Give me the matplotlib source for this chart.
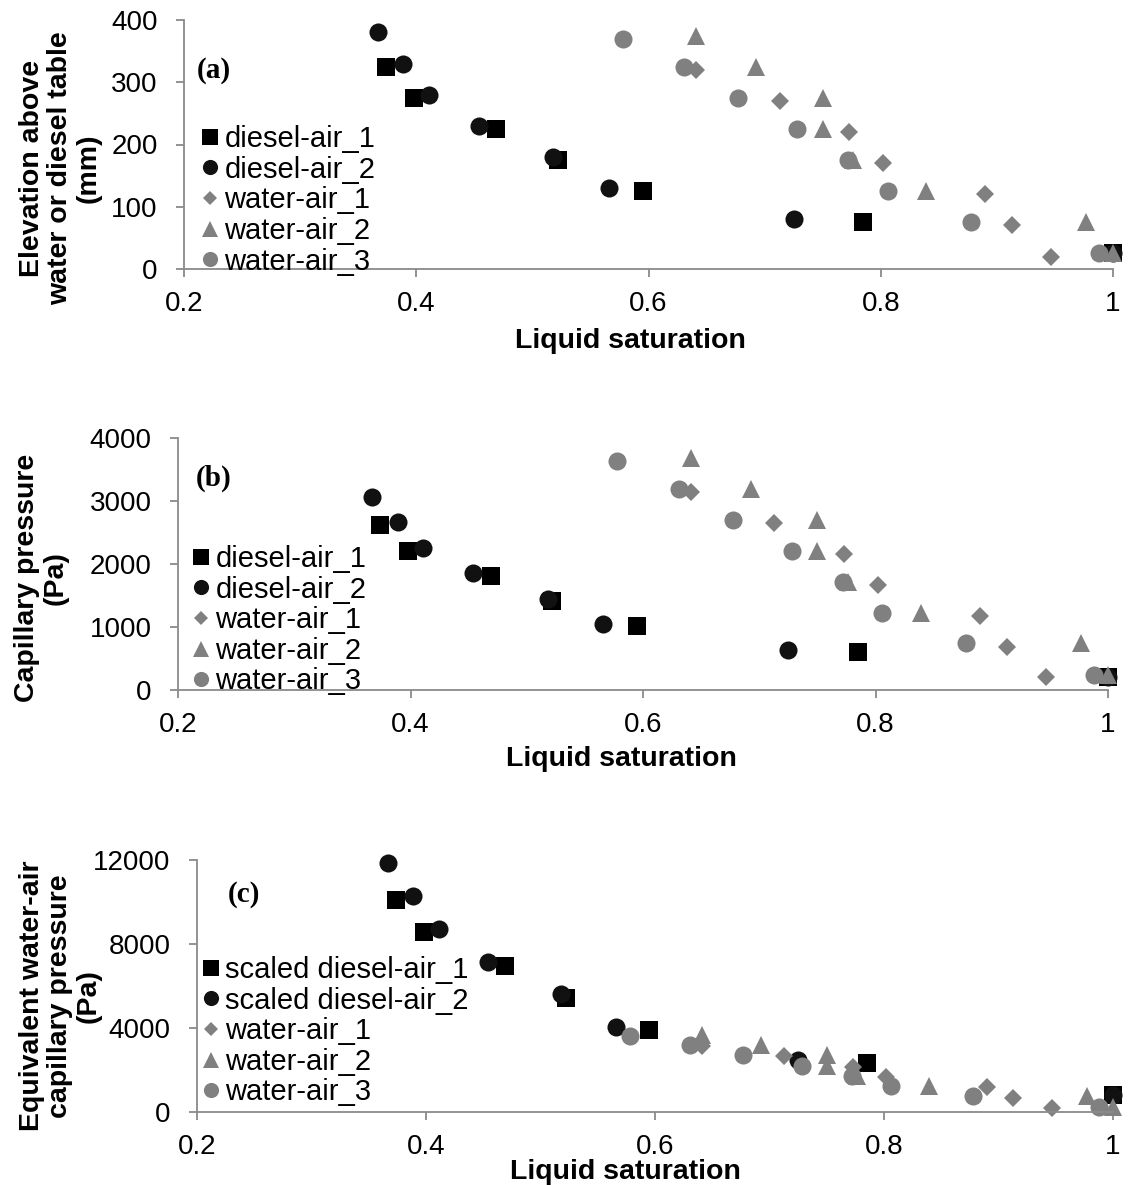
import matplotlib
matplotlib.use("Agg")
import matplotlib.pyplot as plt

plt.rcParams['font.family'] = ['Liberation Sans', 'DejaVu Sans']

W, H = 1134, 1185

# ---------------- data ----------------
# panel (a): elevation (mm) vs liquid saturation
sat_d1 = [0.374, 0.398, 0.469, 0.522, 0.595, 0.785, 1.0]
elev_d1 = [325, 275, 225, 175, 125, 75, 25]
sat_d2 = [0.367, 0.389, 0.411, 0.454, 0.518, 0.566, 0.725, 1.0]
elev_d2 = [380, 330, 280, 230, 180, 130, 80, 25]
sat_w1 = [0.641, 0.713, 0.773, 0.802, 0.890, 0.913, 0.947]
elev_w1 = [320, 270, 220, 170, 120, 70, 20]
sat_w2 = [0.641, 0.693, 0.750, 0.750, 0.776, 0.839, 0.977, 1.0]
elev_w2 = [375, 325, 275, 225, 175, 125, 75, 25]
sat_w3 = [0.578, 0.631, 0.677, 0.728, 0.772, 0.806, 0.878, 0.988]
elev_w3 = [370, 325, 275, 225, 175, 125, 75, 25]

# panel (b): capillary pressure (Pa)
pc_d1 = [2620, 2210, 1810, 1410, 1010, 610, 200]
pc_d2 = [3060, 2660, 2250, 1850, 1450, 1050, 640, 200]
pc_w1 = [3140, 2650, 2160, 1670, 1180, 690, 200]
pc_w2 = [3680, 3190, 2700, 2210, 1720, 1230, 740, 245]
pc_w3 = [3630, 3190, 2700, 2210, 1720, 1230, 740, 245]

# panel (c): equivalent water-air capillary pressure (Pa)
pcs_d1 = [10100, 8570, 6950, 5430, 3900, 2330, 820]
pcs_d2 = [11860, 10290, 8710, 7140, 5620, 4050, 2480, 820]

x_ticks = [0.2, 0.4, 0.6, 0.8, 1.0]
x_ticklabels = ['0.2', '0.4', '0.6', '0.8', '1']
y_ticks_a = [0, 100, 200, 300, 400]
y_ticks_b = [0, 1000, 2000, 3000, 4000]
y_ticks_c = [0, 4000, 8000, 12000]

names_ab = ['diesel-air_1', 'diesel-air_2', 'water-air_1', 'water-air_2', 'water-air_3']
names_c = ['scaled diesel-air_1', 'scaled diesel-air_2', 'water-air_1', 'water-air_2', 'water-air_3']

BLACK = '#000000'
DARK = '#111111'
GRAY = '#808080'
SPINE = '#8a8a8a'

styles = [
    dict(marker='s', color=BLACK, ms=13.5),
    dict(marker='o', color=DARK, ms=13),
    dict(marker='D', color=GRAY, ms=9),
    dict(marker='^', color=GRAY, ms=13),
    dict(marker='o', color=GRAY, ms=13),
]

fig = plt.figure(figsize=(W / 100, H / 100), dpi=100)


def px_axes(left, right, top, bottom):
    return fig.add_axes([left / W, 1 - bottom / H, (right - left) / W, (bottom - top) / H])


def style_axes(ax, yticks, ylim):
    ax.set_xlim(0.2, 1.0)
    ax.set_ylim(*ylim)
    ax.set_xticks(x_ticks)
    ax.set_xticklabels(x_ticklabels)
    ax.set_yticks(yticks)
    ax.set_yticklabels([str(v) for v in yticks])
    for s in ['top', 'right']:
        ax.spines[s].set_visible(False)
    for s in ['left', 'bottom']:
        ax.spines[s].set_color(SPINE)
        ax.spines[s].set_linewidth(1.3)
    ax.tick_params(axis='both', direction='out', length=6, width=1.3, color=SPINE,
                   labelsize=20, labelcolor='black')
    ax.tick_params(axis='x', pad=10)
    ax.tick_params(axis='y', pad=13)


def draw(ax, xs_list, ys_list, names, leg_px, letter, letter_px, xlab_px, ylab, ylab_px, ax_px):
    for xs, ys, st, nm in zip(xs_list, ys_list, styles, names):
        ax.plot(xs, ys, linestyle='none', marker=st['marker'], color=st['color'],
                markersize=st['ms'], markeredgewidth=0, clip_on=False, label=nm)
    ax.legend(loc='upper left', bbox_to_anchor=(leg_px[0] / W, 1 - leg_px[1] / H),
              bbox_transform=fig.transFigure, frameon=False, fontsize=21,
              handlelength=0.75, handletextpad=0.12, labelspacing=0.09,
              borderpad=0, borderaxespad=0, markerscale=0.84, numpoints=1)
    fig.text(letter_px[0] / W, 1 - letter_px[1] / H, letter, family='Liberation Serif',
             fontweight='bold', fontsize=21, ha='left', va='center')
    left, right, top, bottom = ax_px
    ax.set_xlabel('Liquid saturation', fontsize=20.5, fontweight='bold', va='top')
    ax.xaxis.set_label_coords((xlab_px[0] - left) / (right - left),
                              (bottom - xlab_px[1]) / (bottom - top))
    fig.text(ylab_px[0] / W, 1 - ylab_px[1] / H, ylab, rotation=90, fontsize=20.5,
             fontweight='bold', ha='center', va='center', multialignment='center',
             linespacing=1.12)


# panel (a)
ax_a_px = (184, 1113, 20, 269)
ax_a = px_axes(*ax_a_px)
style_axes(ax_a, y_ticks_a, (0, 400))
draw(ax_a, [sat_d1, sat_d2, sat_w1, sat_w2, sat_w3],
     [elev_d1, elev_d2, elev_w1, elev_w2, elev_w3], names_ab,
     (199, 125), '(a)', (197, 70), (630, 328),
     'Elevation above\nwater or diesel table\n(mm)', (60, 168), ax_a_px)

# panel (b)
ax_b_px = (178, 1108, 438, 690)
ax_b = px_axes(*ax_b_px)
style_axes(ax_b, y_ticks_b, (0, 4000))
draw(ax_b, [sat_d1, sat_d2, sat_w1, sat_w2, sat_w3],
     [pc_d1, pc_d2, pc_w1, pc_w2, pc_w3], names_ab,
     (190, 545), '(b)', (196, 478), (621, 746),
     'Capillary pressure\n(Pa)', (41, 578), ax_b_px)

# panel (c)
ax_c_px = (197, 1113, 860, 1112)
ax_c = px_axes(*ax_c_px)
style_axes(ax_c, y_ticks_c, (0, 12000))
draw(ax_c, [sat_d1, sat_d2, sat_w1, sat_w2, sat_w3],
     [pcs_d1, pcs_d2, pc_w1, pc_w2, pc_w3], names_c,
     (200, 956), '(c)', (228, 895), (625, 1159),
     'Equivalent water-air\ncapillary pressure\n(Pa)', (60, 996), ax_c_px)

fig.savefig('out.png', dpi=100)
